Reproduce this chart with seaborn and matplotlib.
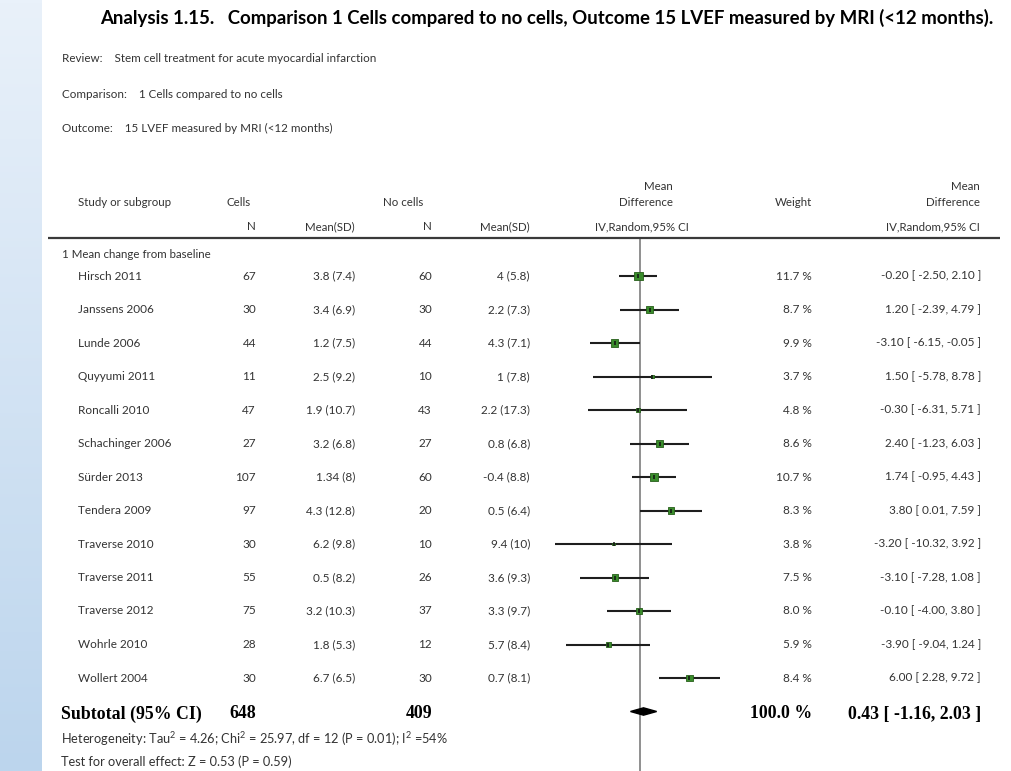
import numpy as np
import pandas as pd
import matplotlib
matplotlib.use("Agg")
import matplotlib.pyplot as plt
import seaborn as sns
from matplotlib.transforms import blended_transform_factory as btf
from matplotlib.patches import Polygon
from matplotlib.colors import LinearSegmentedColormap

# ---------------- data ----------------
studies = ["Hirsch 2011", "Janssens 2006", "Lunde 2006", "Quyyumi 2011", "Roncalli 2010",
           "Schachinger 2006", "Sürder 2013", "Tendera 2009", "Traverse 2010", "Traverse 2011",
           "Traverse 2012", "Wohrle 2010", "Wollert 2004"]
cells_n = [67, 30, 44, 11, 47, 27, 107, 97, 30, 55, 75, 28, 30]
cells_mean = [3.8, 3.4, 1.2, 2.5, 1.9, 3.2, 1.34, 4.3, 6.2, 0.5, 3.2, 1.8, 6.7]
cells_sd = [7.4, 6.9, 7.5, 9.2, 10.7, 6.8, 8, 12.8, 9.8, 8.2, 10.3, 5.3, 6.5]
ctrl_n = [60, 30, 44, 10, 43, 27, 60, 20, 10, 26, 37, 12, 30]
ctrl_mean = [4, 2.2, 4.3, 1, 2.2, 0.8, -0.4, 0.5, 9.4, 3.6, 3.3, 5.7, 0.7]
ctrl_sd = [5.8, 7.3, 7.1, 7.8, 17.3, 6.8, 8.8, 6.4, 10, 9.3, 9.7, 8.4, 8.1]
md = [-0.20, 1.20, -3.10, 1.50, -0.30, 2.40, 1.74, 3.80, -3.20, -3.10, -0.10, -3.90, 6.00]
ci_lo = [-2.50, -2.39, -6.15, -5.78, -6.31, -1.23, -0.95, 0.01, -10.32, -7.28, -4.00, -9.04, 2.28]
ci_hi = [2.10, 4.79, -0.05, 8.78, 5.71, 6.03, 4.43, 7.59, 3.92, 1.08, 3.80, 1.24, 9.72]
weight = [11.7, 8.7, 9.9, 3.7, 4.8, 8.6, 10.7, 8.3, 3.8, 7.5, 8.0, 5.9, 8.4]

total_cells_n = 648
total_ctrl_n = 409
total_md = 0.43
total_lo = -1.16
total_hi = 2.03
total_weight = 100.0

title = "Analysis 1.15.   Comparison 1 Cells compared to no cells, Outcome 15 LVEF measured by MRI (<12 months)."
review = "Review:    Stem cell treatment for acute myocardial infarction"
comparison = "Comparison:    1 Cells compared to no cells"
outcome = "Outcome:    15 LVEF measured by MRI (<12 months)"
subgroup = "1 Mean change from baseline"
heterogeneity = "Heterogeneity: Tau$^2$ = 4.26; Chi$^2$ = 25.97, df = 12 (P = 0.01); I$^2$ =54%"
overall = "Test for overall effect: Z = 0.53 (P = 0.59)"

# ---------------- layout ----------------
W, H = 1012, 771
ZERO_PX, PPU = 640, 8.2          # forest plot origin (px) and pixels per unit
ROW0, ROWH = 276, 33.5           # first study row (px) and row height (px)

sns.set_theme(style="white")
plt.rcParams['font.family'] = ['Lato', 'DejaVu Sans']
plt.rcParams['mathtext.fontset'] = 'custom'
plt.rcParams['mathtext.rm'] = 'Lato'

fig = plt.figure(figsize=(W / 100, H / 100), dpi=100)
fig.patch.set_facecolor('white')

# light blue strip at left
gax = fig.add_axes([0, 0, 42 / W, 1])
grad = np.linspace(0, 1, 256)[:, None]
cmap = LinearSegmentedColormap.from_list('strip', ['#e9f1fa', '#bcd5ed'])
gax.imshow(grad, aspect='auto', cmap=cmap, extent=[0, 1, 1, 0])
gax.axis('off')

ax = fig.add_axes([0, 0, 1, 1])
ax.axis('off')
ax.patch.set_alpha(0)

def ry(py):
    return (py - ROW0) / ROWH

tr = btf(ax.transAxes, ax.transData)

def px(x):
    return x / W

TXT = '#333333'
FS = 8.5

# title & info
fig.text(px(100), 1 - 18 / H, title, fontsize=13.4, fontweight='bold', color='black',
         ha='left', va='center')
for s, y in [(review, 59), (comparison, 94), (outcome, 128)]:
    fig.text(px(62), 1 - y / H, s, fontsize=8.4, color=TXT, ha='left', va='center')

# headers
def htext(x, y, s, ha='left'):
    ax.text(px(x), ry(y), s, transform=tr, fontsize=FS - 0.2, color=TXT, ha=ha, va='center')

htext(78, 203, "Study or subgroup")
htext(227, 203, "Cells")
htext(383, 203, "No cells")
htext(256, 226.5, "N", 'right')
htext(355, 226.5, "Mean(SD)", 'right')
htext(432, 226.5, "N", 'right')
htext(530, 226.5, "Mean(SD)", 'right')
htext(673, 187, "Mean", 'right')
htext(673, 202, "Difference", 'right')
htext(642, 226.5, "IV,Random,95% CI", 'center')
htext(812, 203, "Weight", 'right')
htext(980, 187, "Mean", 'right')
htext(980, 202, "Difference", 'right')
htext(980, 226.5, "IV,Random,95% CI", 'right')

line_y = ry(238)
ax.plot([px(48), px(1000)], [line_y, line_y], transform=tr, color='#3a3a3a', lw=1.6,
        solid_capstyle='butt')

ax.text(px(62), ry(255), subgroup, transform=tr, fontsize=FS - 0.2, color=TXT, ha='left', va='center')

# study rows
df = pd.DataFrame({"study": studies, "row": np.arange(len(studies)), "md": md,
                   "lo": ci_lo, "hi": ci_hi, "weight": weight})

def g(v):
    return f"{v:g}"

for i in range(len(studies)):
    y = i
    ax.text(px(78), y, studies[i], transform=tr, fontsize=FS, color=TXT, ha='left', va='center')
    ax.text(px(256), y, str(cells_n[i]), transform=tr, fontsize=FS, color=TXT, ha='right', va='center')
    ax.text(px(355), y, f"{g(cells_mean[i])} ({g(cells_sd[i])})", transform=tr, fontsize=FS,
            color=TXT, ha='right', va='center')
    ax.text(px(432), y, str(ctrl_n[i]), transform=tr, fontsize=FS, color=TXT, ha='right', va='center')
    ax.text(px(530), y, f"{g(ctrl_mean[i])} ({g(ctrl_sd[i])})", transform=tr, fontsize=FS,
            color=TXT, ha='right', va='center')
    ax.text(px(812), y, f"{weight[i]:.1f} %", transform=tr, fontsize=FS, color=TXT, ha='right', va='center')
    ax.text(px(981), y, f"{md[i]:.2f} [ {ci_lo[i]:.2f}, {ci_hi[i]:.2f} ]", transform=tr, fontsize=FS,
            color=TXT, ha='right', va='center')

# zero line
ax.vlines(0, line_y, ry(H), color='#8f8f8f', lw=1.4, zorder=1)

# CIs and squares
ax.hlines(df["row"], df["lo"], df["hi"], color='#1e1e1e', lw=1.5, zorder=2)
sns.scatterplot(data=df, x="md", y="row", size="weight", sizes=(4, 36), size_norm=(3.7, 11.7),
                marker='s', color='#3a8c2c', edgecolor='#275f1b', linewidth=0.6,
                legend=False, ax=ax, zorder=3)
sns.scatterplot(data=df, x="md", y="row", marker='|', s=7, color='#111111', linewidth=1.1,
                legend=False, ax=ax, zorder=4)

# subtotal
sub_y = 13
diamond = Polygon([[total_lo, sub_y], [total_md, sub_y - 0.11], [total_hi, sub_y],
                   [total_md, sub_y + 0.11]], closed=True, color='black', zorder=4)
ax.add_patch(diamond)
ax.set_xlim(-ZERO_PX / PPU, (W - ZERO_PX) / PPU)
ax.set_ylim((H - ROW0) / ROWH, -ROW0 / ROWH)

SERIF = dict(family=['Liberation Serif', 'DejaVu Serif'], fontweight='bold', fontsize=12.8, color='black')
ax.text(px(61), ry(714), "Subtotal (95% CI)", transform=tr, ha='left', va='center', **SERIF)
ax.text(px(256), ry(714), str(total_cells_n), transform=tr, ha='right', va='center', **SERIF)
ax.text(px(432), ry(714), str(total_ctrl_n), transform=tr, ha='right', va='center', **SERIF)
ax.text(px(812), ry(714), f"{total_weight:.1f} %", transform=tr, ha='right', va='center', **SERIF)
ax.text(px(981), ry(714), f"{total_md:.2f} [ {total_lo:.2f}, {total_hi:.2f} ]", transform=tr,
        ha='right', va='center', **SERIF)

ax.text(px(61), ry(739), heterogeneity, transform=tr, fontsize=9.2, color=TXT, ha='left', va='center')
ax.text(px(61), ry(762), overall, transform=tr, fontsize=9.2, color=TXT, ha='left', va='center')

fig.savefig("out.png", dpi=100)
